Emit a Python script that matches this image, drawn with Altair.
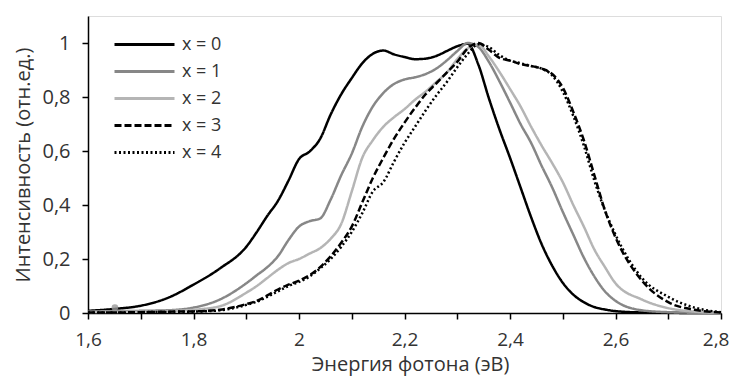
import altair as alt
import pandas as pd

energy = [1.60, 1.65, 1.70, 1.75, 1.80, 1.85, 1.90, 1.92, 1.94, 1.96, 1.98,
          2.00, 2.02, 2.04, 2.06, 2.08, 2.10, 2.12, 2.14, 2.16, 2.18,
          2.20, 2.22, 2.24, 2.26, 2.28, 2.30, 2.32, 2.34, 2.36, 2.38,
          2.40, 2.42, 2.44, 2.46, 2.48, 2.50, 2.52, 2.54, 2.56, 2.58,
          2.60, 2.65, 2.70, 2.75, 2.80]

x0 = [0.008, 0.015, 0.027, 0.055, 0.105, 0.165, 0.245, 0.30, 0.36, 0.415, 0.49,
      0.57, 0.598, 0.645, 0.735, 0.81, 0.87, 0.925, 0.96, 0.972, 0.958,
      0.948, 0.94, 0.942, 0.952, 0.97, 0.988, 0.997, 0.92, 0.795, 0.68,
      0.575, 0.465, 0.355, 0.255, 0.175, 0.112, 0.068, 0.04, 0.022, 0.013,
      0.007, 0.002, 0.001, 0.0, 0.0]

x1 = [0.005, 0.007, 0.008, 0.01, 0.02, 0.05, 0.11, 0.14, 0.17, 0.21, 0.27,
      0.32, 0.34, 0.35, 0.42, 0.51, 0.59, 0.69, 0.765, 0.815, 0.848,
      0.865, 0.873, 0.885, 0.905, 0.935, 0.97, 1.0, 0.985, 0.93, 0.858,
      0.78, 0.70, 0.63, 0.545, 0.465, 0.375, 0.29, 0.205, 0.135, 0.08,
      0.045, 0.01, 0.003, 0.001, 0.0]

x2 = [0.003, 0.004, 0.005, 0.007, 0.012, 0.025, 0.075, 0.10, 0.13, 0.16, 0.185,
      0.20, 0.22, 0.24, 0.275, 0.33, 0.45, 0.575, 0.64, 0.69, 0.725,
      0.755, 0.79, 0.82, 0.855, 0.89, 0.94, 0.98, 0.995, 0.95, 0.893,
      0.83, 0.765, 0.69, 0.62, 0.555, 0.485, 0.40, 0.32, 0.235, 0.17,
      0.11, 0.05, 0.018, 0.005, 0.001]

x3 = [0.002, 0.002, 0.003, 0.005, 0.006, 0.012, 0.033, 0.045, 0.065, 0.087, 0.105,
      0.12, 0.14, 0.17, 0.21, 0.26, 0.32, 0.41, 0.50, 0.575, 0.645,
      0.705, 0.76, 0.81, 0.85, 0.89, 0.93, 0.98, 1.0, 0.975, 0.945,
      0.935, 0.922, 0.915, 0.905, 0.885, 0.835, 0.745, 0.64, 0.51, 0.38,
      0.28, 0.12, 0.04, 0.012, 0.002]

x4 = [0.002, 0.002, 0.003, 0.004, 0.005, 0.010, 0.030, 0.042, 0.06, 0.08, 0.10,
      0.115, 0.135, 0.165, 0.20, 0.245, 0.30, 0.37, 0.45, 0.485, 0.56,
      0.63, 0.69, 0.75, 0.805, 0.855, 0.91, 0.96, 0.995, 0.985, 0.955,
      0.935, 0.925, 0.915, 0.905, 0.88, 0.82, 0.73, 0.62, 0.49, 0.38,
      0.29, 0.13, 0.06, 0.02, 0.003]

series_names = ["x = 0", "x = 1", "x = 2", "x = 3", "x = 4"]
series_values = [x0, x1, x2, x3, x4]
series_colors = ["#000000", "#878787", "#b5b5b5", "#000000", "#000000"]
series_dashes = [[1, 0], [1, 0], [1, 0], [7, 3], [2, 2.5]]

marker_x = [1.651]
marker_y = [0.02]

x_ticks = [round(1.6 + 0.1 * i, 1) for i in range(13)]
y_ticks = [round(0.1 * i, 1) for i in range(12)]

rows = []
for name, vals in zip(series_names, series_values):
    for e, v in zip(energy, vals):
        rows.append({"energy": e, "intensity": v, "series": name})
df = pd.DataFrame(rows)
marker_df = pd.DataFrame({"energy": marker_x, "intensity": marker_y})

FONT = "Open Sans"
TXT = "#333333"

x_enc = alt.X(
    "energy:Q",
    scale=alt.Scale(domain=[1.6, 2.8], nice=False, zero=False),
    axis=alt.Axis(
        title="Энергия фотона (эВ)",
        values=x_ticks,
        labelExpr="(round(datum.value*10) % 2 == 0) ? replace(format(datum.value, '.1~f'), '.', ',') : ''",
        labelOverlap=False,
        labelFlush=False,
        labelAlign={"condition": {"test": "datum.value > 2.75", "value": "right"}, "value": "center"},
        labelOffset={"condition": {"test": "datum.value > 2.75", "value": 8}, "value": 0},
        grid=False,
        domainColor="#000000",
        domainWidth=1.5,
        tickColor="#000000",
        tickWidth=1.5,
        tickSize=6,
        labelPadding=11,
        labelFontSize=19,
        labelColor=TXT,
        labelFont=FONT,
        titleFont=FONT,
        titleFontSize=20,
        titleFontWeight="normal",
        titleColor=TXT,
        titleX=322,
        titleY=51,
        titleBaseline="middle",
    ),
)
y_enc = alt.Y(
    "intensity:Q",
    scale=alt.Scale(domain=[0, 1.1], nice=False),
    axis=alt.Axis(
        title="Интенсивность (отн.ед.)",
        values=y_ticks,
        labelExpr="(round(datum.value*10) % 2 == 0 && datum.value < 1.05) ? replace(format(datum.value, '.1~f'), '.', ',') : ''",
        labelOverlap=False,
        labelFlush=False,
        grid=False,
        domainColor="#000000",
        domainWidth=1.5,
        tickColor="#000000",
        tickWidth=1.5,
        tickSize=6,
        labelPadding=12,
        labelFontSize=20,
        labelColor=TXT,
        labelFont=FONT,
        titleFont=FONT,
        titleFontSize=20,
        titleFontWeight="normal",
        titleColor=TXT,
        titleX=-65,
        titleBaseline="middle",
    ),
)

legend = alt.Legend(
    title=None,
    orient="none",
    legendX=25,
    legendY=15,
    symbolType="stroke",
    symbolSize=3600,
    symbolStrokeWidth=3,
    labelFont=FONT,
    labelFontSize=18,
    labelColor=TXT,
    labelOffset=6,
    clipHeight=27,
    rowPadding=0,
)

lines = alt.Chart(df).mark_line(strokeWidth=2.5, interpolate="monotone").encode(
    x=x_enc,
    y=y_enc,
    color=alt.Color("series:N", scale=alt.Scale(domain=series_names, range=series_colors), legend=legend),
    strokeDash=alt.StrokeDash("series:N", scale=alt.Scale(domain=series_names, range=series_dashes), legend=legend),
    detail="series:N",
)

marker = alt.Chart(marker_df).mark_point(filled=True, color="#999999", size=45, opacity=0.8).encode(
    x="energy:Q", y="intensity:Q"
)

chart = alt.layer(lines, marker).properties(
    width=633,
    height=297,
    autosize=alt.AutoSizeParams(type="none"),
    padding={"left": 80, "top": 8, "right": 8, "bottom": 63},
).configure_view(stroke=None).configure(background="white")

chart.save("out.html", embed_options={"renderer": "svg", "actions": False})
